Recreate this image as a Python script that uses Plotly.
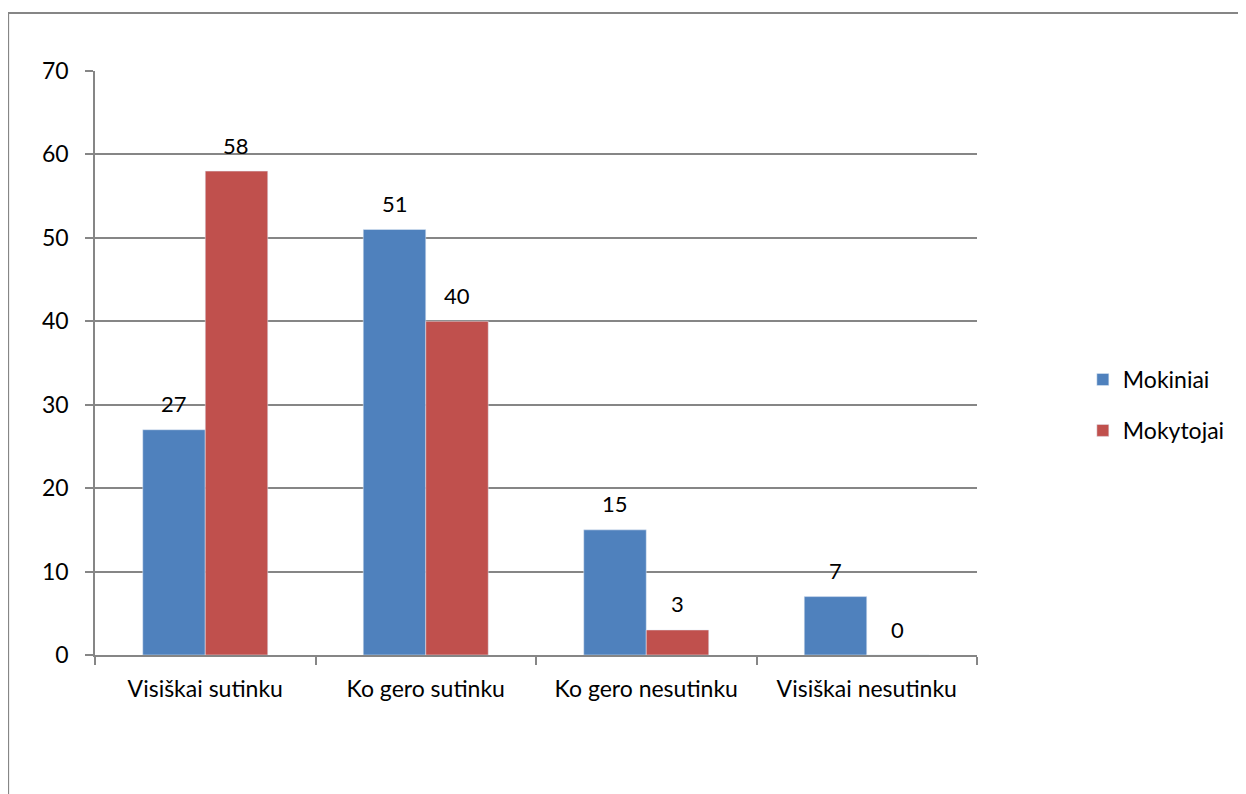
import plotly.graph_objects as go

categories = ["Visiškai sutinku", "Ko gero sutinku", "Ko gero nesutinku", "Visiškai nesutinku"]
mokiniai = [27, 51, 15, 7]
mokytojai = [58, 40, 3, 0]

FONT = "Lato"
GRAY = "#868686"
FS = 24

fig = go.Figure()
fig.add_trace(go.Bar(name="Mokiniai", x=categories, y=mokiniai, marker_color="#4F81BD",
                     legendgroup="a"))
fig.add_trace(go.Bar(name="Mokytojai", x=categories, y=mokytojai, marker_color="#C0504D",
                     legendgroup="b"))

annotations = []
for series, dx in ((mokiniai, -31), (mokytojai, 31)):
    for cat, v in zip(categories, series):
        annotations.append(dict(x=cat, y=v, xref="x", yref="y", text=str(v), showarrow=False,
                                xshift=dx, yshift=26, yanchor="middle",
                                font=dict(size=FS - 2, family=FONT, color="black")))

# page body has an 8px default margin; figure sized to fit the window
fig.update_layout(
    width=1238, height=786,
    paper_bgcolor="white", plot_bgcolor="white",
    margin=dict(l=87, r=269, t=63, b=139),
    barmode="group", bargap=0.433, bargroupgap=0,
    font=dict(family=FONT, size=FS, color="black"),
    showlegend=True,
    legend=dict(x=1.12, y=0.428, xanchor="left", yanchor="middle", tracegroupgap=18,
                font=dict(size=FS - 1, family=FONT), itemwidth=30, bgcolor="rgba(0,0,0,0)"),
    xaxis=dict(showline=True, linecolor=GRAY, linewidth=1.5, ticks="outside", ticklen=8,
               tickcolor=GRAY, tickwidth=1.5, tickson="boundaries", showgrid=False,
               ticklabelstandoff=13, tickfont=dict(size=FS - 1, family=FONT)),
    yaxis=dict(range=[0, 70], dtick=10, showline=True, linecolor=GRAY, linewidth=1.5,
               ticks="outside", ticklen=8, tickcolor=GRAY, tickwidth=1.5,
               showgrid=True, gridcolor=GRAY, gridwidth=1.5, zeroline=False,
               ticklabelstandoff=12, tickfont=dict(size=FS - 1, family=FONT)),
    annotations=annotations,
    shapes=[dict(type="rect", xref="paper", yref="paper", x0=-0.0985, x1=1.5, y0=-0.5, y1=1.0993,
                 line=dict(color=GRAY, width=2), fillcolor="rgba(0,0,0,0)", layer="below")],
)

fig.write_html("out.html")
